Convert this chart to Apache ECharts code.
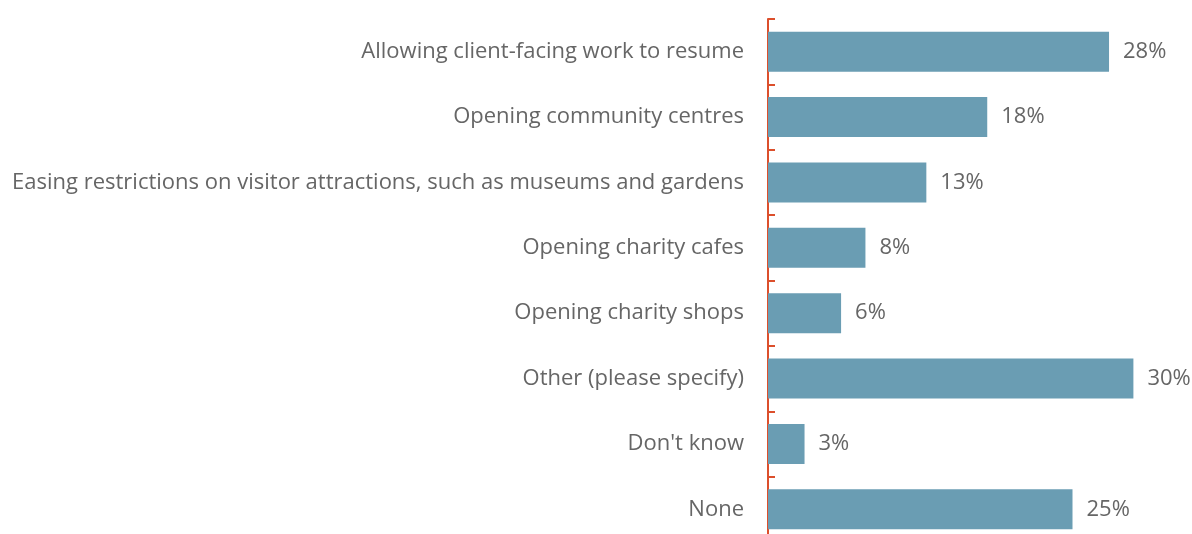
<!DOCTYPE html>
<html>
<head>
<meta charset="utf-8">
<script src="https://cdn.jsdelivr.net/npm/echarts@6/dist/echarts.min.js"></script>
<style>
  html, body { margin: 0; padding: 0; background: #fff; overflow: hidden; }
  #chart { width: 1192px; height: 544px; }
</style>
</head>
<body>
<div id="chart"></div>
<script>
// categories, top to bottom
var categories = [
  'Allowing client-facing work to resume',
  'Opening community centres',
  'Easing restrictions on visitor attractions, such as museums and gardens',
  'Opening charity cafes',
  'Opening charity shops',
  'Other (please specify)',
  "Don't know",
  'None'
];
var values = [28, 18, 13, 8, 6, 30, 3, 25];

var chart = echarts.init(document.getElementById('chart'));
var option = {
  animation: false,
  textStyle: { fontFamily: '"Open Sans", sans-serif' },
  grid: { left: 768, top: 19, width: 365.4, height: 523, containLabel: false },
  xAxis: {
    type: 'value',
    min: 0,
    max: 30,
    show: false
  },
  yAxis: {
    type: 'category',
    inverse: true,
    data: categories,
    axisLine: { show: true, lineStyle: { color: '#dc4f2c', width: 2 } },
    axisTick: { show: true, inside: true, length: 7, lineStyle: { color: '#dc4f2c', width: 2 } },
    axisLabel: { color: '#666666', fontSize: 22, margin: 24, fontFamily: '"Open Sans", sans-serif' }
  },
  series: [{
    type: 'bar',
    data: values,
    barCategoryGap: '39%',
    itemStyle: { color: '#6a9db3' },
    label: {
      show: true,
      position: 'right',
      distance: 14,
      formatter: '{c}%',
      color: '#666666',
      fontSize: 22,
      fontFamily: '"Open Sans", sans-serif'
    }
  }]
};
chart.setOption(option);
</script>
</body>
</html>
